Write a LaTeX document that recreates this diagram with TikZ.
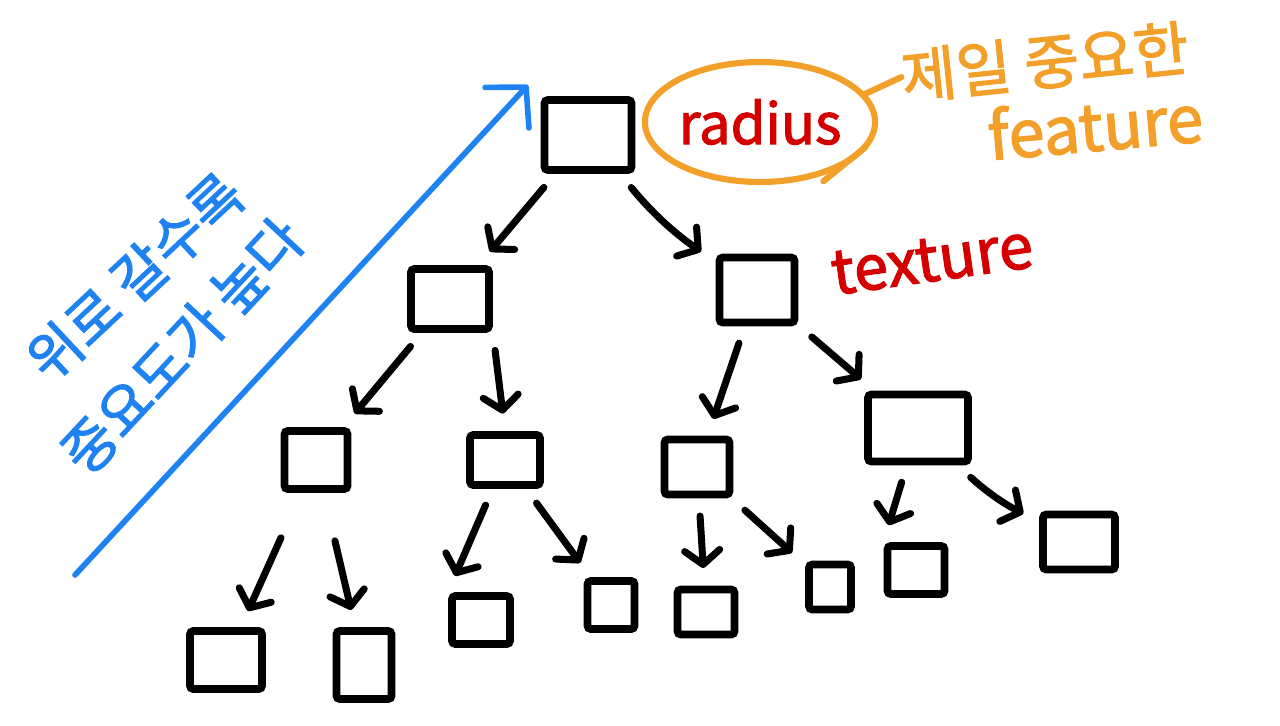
\documentclass[tikz,border=0pt]{standalone}
\usepackage{fontspec}
\usetikzlibrary{arrows.meta,shapes.geometric}
\newfontfamily\krfont{Noto Sans CJK KR}[AutoFakeBold=2]
\definecolor{skblue}{HTML}{1E82F0}
\definecolor{skorange}{HTML}{F2A02A}
\definecolor{skred}{HTML}{D40000}

\begin{document}
\begin{tikzpicture}[x=0.02cm,y=-0.02cm,
    box/.style={draw,line width=4.5pt,rounded corners=2pt,inner sep=0pt},
    arr/.style={-{Straight Barb[length=8pt,width=20pt,round]},line width=4pt,line cap=round,
      shorten <=10pt,shorten >=10pt},
    lbl/.style={inner sep=0pt,font=\krfont\bfseries\fontsize{32}{36}\selectfont}]
  \useasboundingbox (0,0) rectangle (1280,726);

  % tree of features
  \node[box,minimum width=1.74cm,minimum height=1.4cm] (root) at (588,135) {};
  \node[box,minimum width=1.56cm,minimum height=1.2cm] (l1a) at (450,299) {};
  \node[box,minimum width=1.5cm,minimum height=1.3cm] (l1b) at (757,290) {};
  \node[box,minimum width=1.26cm,minimum height=1.16cm] (l2a) at (316,460) {};
  \node[box,minimum width=1.4cm,minimum height=1.0cm] (l2b) at (505,460) {};
  \node[box,minimum width=1.3cm,minimum height=1.1cm] (l2c) at (697,467) {};
  \node[box,minimum width=2.0cm,minimum height=1.34cm] (l2d) at (918,428) {};
  \node[box,minimum width=1.44cm,minimum height=1.16cm] (l3a) at (226,660) {};
  \node[box,minimum width=1.1cm,minimum height=1.36cm] (l3b) at (364,665) {};
  \node[box,minimum width=1.16cm,minimum height=0.96cm] (l3c) at (481,620) {};
  \node[box,minimum width=0.94cm,minimum height=0.96cm] (l3d) at (611,605) {};
  \node[box,minimum width=1.14cm,minimum height=0.9cm] (l3e) at (706,612) {};
  \node[box,minimum width=0.84cm,minimum height=0.9cm] (l3f) at (830,587) {};
  \node[box,minimum width=1.14cm,minimum height=0.96cm] (l3g) at (916,570) {};
  \node[box,minimum width=1.44cm,minimum height=1.1cm] (l3h) at (1079,542) {};

  \draw[arr] (root) -- (l1a);
  \draw[arr] (root) to[bend right=8] (l1b);
  \draw[arr] (l1a) -- (l2a);
  \draw[arr] (l1a.south east) -- (l2b.north);
  \draw[arr] (l1b) -- (l2c);
  \draw[arr] (l1b) -- (l2d);
  \draw[arr,shorten <=28pt] (l2a) -- (l3a);
  \draw[arr,shorten <=28pt] (l2a) -- (l3b);
  \draw[arr] (l2b) -- (l3c.north west);
  \draw[arr] (l2b) -- (l3d);
  \draw[arr] (l2c) -- (l3e);
  \draw[arr] (l2c) -- (l3f);
  \draw[arr] (l2d) -- (l3g.north west);
  \draw[arr] (l2d) to[bend right=8] (l3h);

  % importance axis
  \coordinate (lo) at (75,575);
  \coordinate (hi) at (528,85);
  \draw[skblue,line width=3.2pt,line cap=round,-{Straight Barb[length=16pt,width=34pt,round]}] (lo) -- (hi);
  \node[lbl,text=skblue,rotate=43] (ax1) at (135,277) {위로 갈수록};
  \node[lbl,text=skblue,rotate=47] (ax2) at (182,346) {중요도가 높다};

  % labels
  \node[draw=skorange,line width=3.5pt,ellipse,minimum width=4.4cm,minimum height=2.4cm,
    lbl,text=skred] (rad) at (760,122) {radius};
  \draw[skorange,line width=3.5pt,line cap=round] (rad.-40) ++(0,6) -- ++(42,-34);
  \node[lbl,text=skorange,rotate=6,font=\krfont\bfseries\fontsize{34}{38}\selectfont] (imp1) at (1045,62) {제일 중요한};
  \node[lbl,text=skorange,rotate=5,font=\krfont\bfseries\fontsize{37}{40}\selectfont] (imp2) at (1095,125) {feature};
  \draw[skorange,line width=3.5pt,line cap=round] (rad.15) -- (imp1.west);
  \node[lbl,text=skred,rotate=8,font=\krfont\bfseries\fontsize{35}{38}\selectfont] (tex) at (932,260) {texture};
\end{tikzpicture}
\end{document}
